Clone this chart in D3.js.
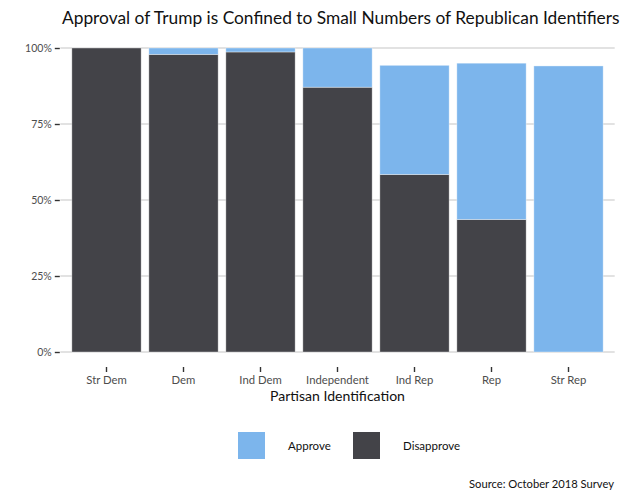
<!DOCTYPE html>
<html>
<head>
<meta charset="utf-8">
<script src="https://cdn.jsdelivr.net/npm/d3@7"></script>
<style>
html,body{margin:0;padding:0;background:#fff;}
svg{display:block;font-family:Lato,"Open Sans",sans-serif;}
</style>
</head>
<body>
<svg id="chart" width="624" height="499"></svg>
<script>
const categories = ["Str Dem","Dem","Ind Dem","Independent","Ind Rep","Rep","Str Rep"];
const approve    = [0, 2.1, 1.3, 12.9, 35.9, 51.4, 94.1];
const disapprove = [100, 97.9, 98.7, 87.1, 58.4, 43.6, 0];
const yTicks = [0, 25, 50, 75, 100];
const yTickLabels = ["0%","25%","50%","75%","100%"];
const seriesNames = ["Approve","Disapprove"];
const colors = {Approve:"#7cb5ec", Disapprove:"#434348"};

const svg = d3.select("#chart");
const pLeft = 60.3, pRight = 614.7, pTop = 48, pBottom = 352;

const x = d3.scaleBand().domain(categories).range([pLeft, pRight]).paddingOuter(0.15).paddingInner(0.1);
const y = d3.scaleLinear().domain([0, 100]).range([pBottom, pTop]);

// fit a text element to a target width
function fit(sel, target, base) {
  const w = sel.node().getComputedTextLength();
  sel.attr("font-size", base * target / w);
}

// gridlines
svg.append("g").selectAll("line").data(yTicks).join("line")
  .attr("x1", pLeft).attr("x2", pRight)
  .attr("y1", d => y(d)).attr("y2", d => y(d))
  .attr("stroke", "#d9d9d9").attr("stroke-width", 1.3);

// stacked bars
const rows = categories.map((c, i) => ({cat: c, Disapprove: disapprove[i], Approve: approve[i]}));
const stack = d3.stack().keys(["Disapprove","Approve"])(rows);
svg.append("g").selectAll("g").data(stack).join("g")
  .attr("fill", s => colors[s.key])
  .selectAll("rect").data(s => s.filter(d => d[1] - d[0] > 0)).join("rect")
  .attr("x", d => x(d.data.cat))
  .attr("width", x.bandwidth())
  .attr("y", d => y(d[1]))
  .attr("height", d => y(d[0]) - y(d[1]))
  .attr("stroke", "rgba(255,255,255,0.45)").attr("stroke-width", 0.8);

// y axis
const yAxis = d3.axisLeft(y).tickValues(yTicks).tickFormat((d, i) => yTickLabels[i]).tickSize(5).tickPadding(3);
const gy = svg.append("g").attr("transform", `translate(${pLeft - 0.5},0)`).call(yAxis);
gy.select(".domain").remove();
gy.selectAll(".tick line").attr("stroke", "#333").attr("stroke-width", 1.4);
gy.selectAll(".tick text").attr("font-size", 10.5).attr("fill", "#4d4d4d")
  .attr("font-family", "Lato,'Open Sans',sans-serif");

// x axis
const xAxis = d3.axisBottom(x).tickSize(5).tickPadding(4);
const gx = svg.append("g").attr("transform", `translate(0,${pBottom + 15})`).call(xAxis);
gx.select(".domain").remove();
gx.selectAll(".tick line").attr("stroke", "#333").attr("stroke-width", 1.4);
gx.selectAll(".tick text").attr("font-size", 11.3).attr("fill", "#4d4d4d")
  .attr("font-family", "Lato,'Open Sans',sans-serif");

// axis title
const xt = svg.append("text").attr("x", (pLeft + pRight) / 2).attr("y", 401)
  .attr("text-anchor", "middle").attr("font-size", 13).attr("fill", "#111")
  .text("Partisan Identification");
fit(xt, 135, 13);

// title
const title = svg.append("text").attr("x", 62).attr("y", 24)
  .attr("font-size", 17).attr("fill", "#111")
  .text("Approval of Trump is Confined to Small Numbers of Republican Identifiers");
fit(title, 558, 17);

// legend
const legX = [238, 353];
const lg = svg.append("g").selectAll("g").data(seriesNames).join("g")
  .attr("transform", (d, i) => `translate(${legX[i]},432)`);
lg.append("rect").attr("width", 27).attr("height", 27).attr("fill", d => colors[d]);
lg.append("text").attr("x", 50).attr("y", 14).attr("dy", "0.35em")
  .attr("font-size", 11.5).attr("fill", "#111").text(d => d);

// caption
const cap = svg.append("text").attr("x", 614).attr("y", 484).attr("dy", "0.35em")
  .attr("text-anchor", "end").attr("font-size", 10.5).attr("fill", "#111")
  .text("Source: October 2018 Survey");
fit(cap, 145, 10.5);
</script>
</body>
</html>
